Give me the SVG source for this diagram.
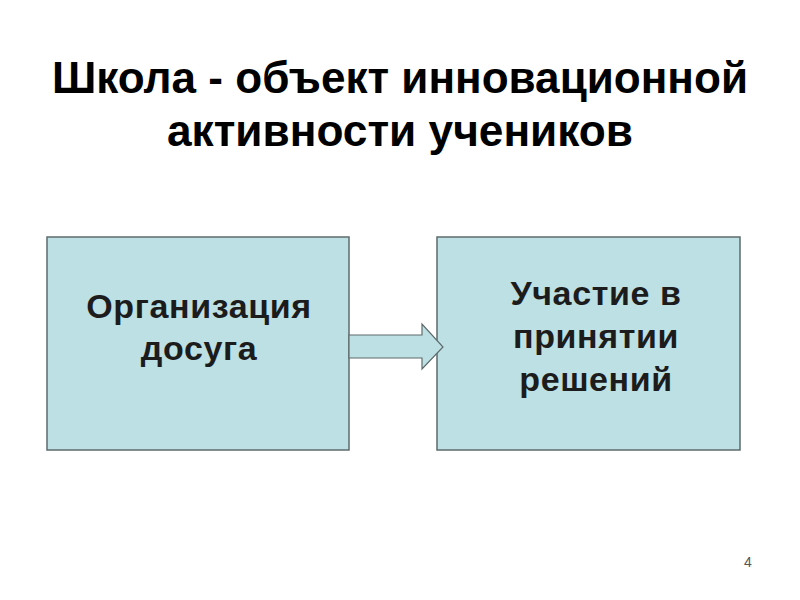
<svg xmlns="http://www.w3.org/2000/svg" width="800" height="600" viewBox="0 0 800 600">
<style>
.title{font-family:"Liberation Sans",Arial,sans-serif;font-weight:bold;font-size:44px;fill:#000;text-anchor:middle}
.box{fill:#BCE0E3;stroke:#5f6b6b;stroke-width:1.5}
.lbl{font-family:"Liberation Sans",Arial,sans-serif;font-weight:bold;font-size:34px;letter-spacing:0.6px;fill:#1c1c1c;text-anchor:middle}
.arrow{fill:#BCE0E3;stroke:#5f6b6b;stroke-width:1.2}
</style>
<rect width="800" height="600" fill="#fff"/>
<text class="title" x="400" y="93" textLength="696" lengthAdjust="spacingAndGlyphs">Школа - объект инновационной</text>
<text class="title" x="400" y="146" textLength="466" lengthAdjust="spacingAndGlyphs">активности учеников</text>
<g id="node-left">
<rect class="box" x="47" y="237" width="302" height="213"/>
<text class="lbl" x="199" y="318">Организация</text>
<text class="lbl" x="199" y="360">досуга</text>
</g>
<g id="node-right">
<rect class="box" x="437" y="237" width="303" height="213"/>
<text class="lbl" x="596" y="305">Участие в</text>
<text class="lbl" x="596" y="348">принятии</text>
<text class="lbl" x="596" y="391">решений</text>
</g>
<g id="connectors">
<polygon class="arrow" points="349,335 422,335 422,324 443,347 422,369 422,358 349,358"/>
</g>
<text x="748" y="567" font-family="Liberation Sans,Arial,sans-serif" font-size="14" fill="#555" text-anchor="middle">4</text>
</svg>
